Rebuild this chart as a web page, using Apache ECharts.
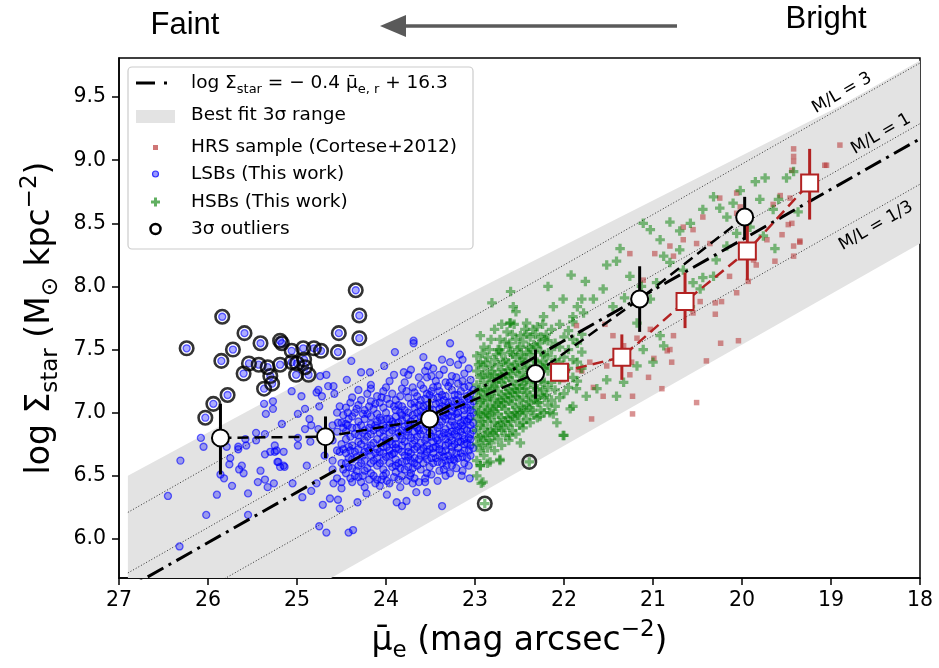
<!DOCTYPE html>
<html><head><meta charset="utf-8">
<script src="https://cdn.jsdelivr.net/npm/echarts@6/dist/echarts.min.js"></script>
<style>html,body{margin:0;padding:0;background:#fff}#c{width:939px;height:668px}</style>
</head><body><div id="c"></div><script>
// ---------------- data ----------------
const xTicks=[18,19,20,21,22,23,24,25,26,27];
const yTicks=[6.0,6.5,7.0,7.5,8.0,8.5,9.0,9.5];

// binned means (this work)
const binMu=[25.86,24.68,23.51,22.32,21.15,19.97];
const binMean=[6.80,6.81,6.95,7.31,7.90,8.55];
const binLo=[6.51,6.64,6.80,7.11,7.64,8.37];
const binHi=[7.07,6.97,7.11,7.50,8.16,8.71];
// binned means (HRS)
const hrsBinMu=[22.05,21.35,20.64,19.94,19.24];
const hrsBinMean=[7.32,7.44,7.88,8.28,8.82];
const hrsBinLo=[7.30,7.26,7.67,8.05,8.53];
const hrsBinHi=[7.35,7.62,8.11,8.49,9.09];

// best fit line and 3 sigma band
const fitMu=[27,18], fitLogS=[5.57,9.17];
const bandMu=[26.9,23.64,18.9,18.0];
const bandUpper=[6.50,7.74,9.43,9.79];
const bandLower=[4.78,6.08,7.98,8.34];
// constant M/L lines
const mlMu=[26.9,18.0];
const ml3=[6.21,9.77], ml1=[5.73,9.29], ml13=[5.25,8.81];

const lsbOutliers=[[26.24,7.51],[25.84,7.76],[25.59,7.63],[25.72,7.50],[25.85,7.41],[25.41,7.55],[25.19,7.57],[25.17,7.55],[25.06,7.49],[24.93,7.51],[24.81,7.51],[24.73,7.49],[24.54,7.48],[24.53,7.63],[24.34,7.97],[24.30,7.77],[24.30,7.59],[25.54,7.39],[25.43,7.38],[25.33,7.36],[25.19,7.38],[25.60,7.31],[25.30,7.29],[25.28,7.23],[25.37,7.19],[25.06,7.40],[25.00,7.39],[24.92,7.42],[24.91,7.36],[25.01,7.30],[24.87,7.30],[25.78,7.14],[25.94,7.07],[26.03,6.96]];
const hsbOutliers=[[22.89,6.28],[22.39,6.61]];

const lsb=[
[26.31,6.62],[26.45,6.34],[26.05,6.73],[26.02,6.19],[26.32,5.94],[25.90,6.35],[25.79,6.73],[25.75,6.64],[25.86,6.51],[25.82,6.48],[25.73,6.42],[25.66,6.73],[25.57,6.74],[25.46,6.78],[25.65,6.55],[25.62,6.58],[25.60,6.52],[25.55,6.36],[25.55,6.19],[25.44,6.45],[25.41,6.54],[25.36,6.47],[25.36,6.67],[25.33,6.41],[25.30,6.69],[25.26,6.44],[25.25,6.74],[25.23,6.70],[25.22,6.61],[25.19,6.57],[25.14,6.57],[25.05,6.44],
[25.37,7.07],[25.35,6.99],[25.27,7.09],[25.17,6.91],[25.06,7.17],[24.99,6.99],[24.86,6.95],[24.84,6.90],[24.76,7.18],[24.72,7.13],[24.75,7.05],[24.67,7.30],[24.65,7.21],[24.58,7.15],[24.52,7.05],[24.43,7.00],[24.39,7.41],[24.28,7.32],[24.17,7.19],[24.02,7.37],[23.90,7.48],[23.80,7.32],[23.69,7.57],[23.72,7.34],
[25.66,6.71],[25.58,6.79],[25.46,6.84],[25.36,6.83],[25.25,6.69],[25.15,6.69],[24.99,6.80],[24.91,6.87],[24.85,6.77],[24.76,6.87],[24.54,6.92],[24.43,6.90],[24.52,6.69],[24.69,6.66],[25.76,6.59],[26.08,6.80],
[25.15,6.58],[24.94,6.33],[24.84,6.38],[24.71,6.27],[24.67,6.05],[24.63,6.32],[24.54,6.31],[24.52,6.24],[24.75,6.10],[24.42,6.05],[24.37,6.07],[24.32,6.29],[24.22,6.36],[23.99,6.35],[23.88,6.29],[23.82,6.26],[23.77,6.30],[23.66,6.37],[23.54,6.37],[23.56,6.45],[23.37,6.26],[23.73,6.50],[23.32,6.58],[23.24,6.63],[23.15,6.50],[23.06,6.48],[24.89,6.58],[24.78,6.44],[24.59,6.44],[24.50,6.45],[25.21,6.61],[24.99,6.74],[25.27,7.03],[24.95,7.13],[24.91,7.03],[24.78,7.16],[24.74,7.29],[24.59,7.21],[24.44,7.26],[24.18,7.32],[23.69,7.55],[23.28,7.55],[23.58,7.44],[23.37,7.42],[23.17,7.46],[23.53,7.37],
[24.60,6.62],[24.60,6.78],[24.60,6.90],[24.60,6.55],
[24.55,6.70],[24.55,6.85],[24.55,6.48],[24.55,7.00],
[24.50,6.60],[24.50,6.75],[24.50,6.92],[24.50,6.40],
[24.45,6.52],[24.45,6.68],[24.45,6.79],[24.45,6.91],[24.45,7.04],[24.45,6.60],[24.45,6.85],
[24.42,6.57],[24.42,6.73],[24.42,6.95],[24.42,6.64],
[24.38,6.45],[24.38,6.63],[24.38,6.74],[24.38,6.88],[24.38,6.97],[24.38,7.12],[24.38,6.56],
[24.35,6.50],[24.35,6.69],[24.35,6.83],[24.35,7.00],
[24.31,6.58],[24.31,6.71],[24.31,6.82],[24.31,6.93],[24.31,7.06],[24.31,6.49],[24.31,6.77],[24.31,7.18],
[24.28,6.60],[24.28,6.75],[24.28,6.90],[24.28,7.10],[24.28,6.45],
[24.24,6.41],[24.24,6.62],[24.24,6.69],[24.24,6.86],[24.24,6.95],[24.24,7.02],[24.24,6.54],[24.24,6.78],
[24.21,6.56],[24.21,6.72],[24.21,6.81],[24.21,6.99],[24.21,7.15],
[24.17,6.52],[24.17,6.66],[24.17,6.74],[24.17,6.83],[24.17,6.91],[24.17,7.09],[24.17,7.22],[24.17,6.60],[24.17,6.97],
[24.14,6.50],[24.14,6.62],[24.14,6.76],[24.14,6.86],[24.14,7.03],
[24.10,6.47],[24.10,6.58],[24.10,6.71],[24.10,6.79],[24.10,6.88],[24.10,6.99],[24.10,7.13],[24.10,6.64],[24.10,6.93],
[24.07,6.60],[24.07,6.69],[24.07,6.84],[24.07,6.96],[24.07,7.08],[24.07,6.42],
[24.03,6.55],[24.03,6.62],[24.03,6.73],[24.03,6.81],[24.03,6.90],[24.03,7.04],[24.03,7.17],[24.03,6.68],[24.03,6.86],[24.03,6.50],
[24.00,6.52],[24.00,6.65],[24.00,6.78],[24.00,6.88],[24.00,7.00],[24.00,7.20],
[23.96,6.44],[23.96,6.60],[23.96,6.70],[23.96,6.77],[23.96,6.84],[23.96,6.95],[23.96,7.07],[23.96,7.25],[23.96,6.66],[23.96,6.90],
[23.93,6.57],[23.93,6.67],[23.93,6.75],[23.93,6.86],[23.93,6.93],[23.93,7.15],
[23.89,6.53],[23.89,6.63],[23.89,6.72],[23.89,6.80],[23.89,6.88],[23.89,6.97],[23.89,7.10],[23.89,6.58],[23.89,7.02],[23.89,6.75],
[23.86,6.47],[23.86,6.60],[23.86,6.71],[23.86,6.84],[23.86,6.92],[23.86,7.06],
[23.82,6.50],[23.82,6.61],[23.82,6.69],[23.82,6.79],[23.82,6.86],[23.82,6.94],[23.82,7.05],[23.82,7.19],[23.82,6.74],[23.82,6.98],
[23.79,6.55],[23.79,6.66],[23.79,6.77],[23.79,6.89],[23.79,7.02],[23.79,7.24],
[23.75,6.57],[23.75,6.65],[23.75,6.73],[23.75,6.82],[23.75,6.91],[23.75,7.00],[23.75,7.12],[23.75,7.30],[23.75,6.69],[23.75,6.87],
[23.72,6.62],[23.72,6.68],[23.72,6.80],[23.72,6.93],[23.72,7.07],[23.72,6.52],
[23.68,6.48],[23.68,6.60],[23.68,6.71],[23.68,6.78],[23.68,6.85],[23.68,6.95],[23.68,7.04],[23.68,7.16],[23.68,6.64],[23.68,6.90],[23.68,7.08],
[23.65,6.58],[23.65,6.73],[23.65,6.81],[23.65,6.88],[23.65,7.00],[23.65,7.13],
[23.61,6.55],[23.61,6.66],[23.61,6.76],[23.61,6.83],[23.61,6.92],[23.61,7.01],[23.61,7.10],[23.61,7.22],[23.61,6.70],[23.61,6.97],
[23.58,6.60],[23.58,6.72],[23.58,6.86],[23.58,6.96],[23.58,7.05],[23.58,7.19],
[23.54,6.52],[23.54,6.63],[23.54,6.74],[23.54,6.80],[23.54,6.89],[23.54,6.98],[23.54,7.06],[23.54,7.15],[23.54,7.28],[23.54,6.69],[23.54,6.94],
[23.51,6.57],[23.51,6.71],[23.51,6.84],[23.51,6.91],[23.51,7.03],[23.51,7.14],
[23.47,6.60],[23.47,6.68],[23.47,6.77],[23.47,6.86],[23.47,6.93],[23.47,7.02],[23.47,7.11],[23.47,7.20],[23.47,6.72],[23.47,6.97],[23.47,7.35],
[23.44,6.64],[23.44,6.73],[23.44,6.80],[23.44,6.95],[23.44,7.07],[23.44,7.25],
[23.40,6.54],[23.40,6.66],[23.40,6.75],[23.40,6.83],[23.40,6.90],[23.40,6.99],[23.40,7.08],[23.40,7.17],[23.40,7.30],[23.40,6.71],[23.40,7.03],
[23.37,6.60],[23.37,6.69],[23.37,6.81],[23.37,6.93],[23.37,7.05],[23.37,7.14],
[23.33,6.62],[23.33,6.70],[23.33,6.79],[23.33,6.87],[23.33,6.95],[23.33,7.04],[23.33,7.13],[23.33,7.24],[23.33,6.74],[23.33,7.00],[23.33,6.50],
[23.30,6.66],[23.30,6.76],[23.30,6.84],[23.30,6.98],[23.30,7.08],[23.30,7.21],
[23.26,6.58],[23.26,6.69],[23.26,6.78],[23.26,6.85],[23.26,6.93],[23.26,7.01],[23.26,7.09],[23.26,7.18],[23.26,7.29],[23.26,6.73],[23.26,6.97],
[23.23,6.62],[23.23,6.75],[23.23,6.83],[23.23,6.90],[23.23,7.04],[23.23,7.14],
[23.19,6.64],[23.19,6.72],[23.19,6.81],[23.19,6.89],[23.19,6.96],[23.19,7.05],[23.19,7.14],[23.19,7.23],[23.19,6.77],[23.19,7.00],[23.19,7.38],
[23.16,6.68],[23.16,6.77],[23.16,6.85],[23.16,6.92],[23.16,7.08],[23.16,7.17],
[23.12,6.60],[23.12,6.70],[23.12,6.79],[23.12,6.87],[23.12,6.94],[23.12,7.02],[23.12,7.10],[23.12,7.20],[23.12,6.75],[23.12,6.98],[23.12,7.31],
[23.09,6.64],[23.09,6.76],[23.09,6.86],[23.09,6.93],[23.09,7.04],[23.09,7.13],
[23.05,6.66],[23.05,6.74],[23.05,6.83],[23.05,6.90],[23.05,6.97],[23.05,7.06],[23.05,7.15],[23.05,7.26],[23.05,6.79],[23.05,7.02],
[23.02,6.72],[23.02,6.86],[23.02,6.92],[23.02,7.00],[23.02,7.09],[23.02,7.18],
[23.99,6.46],[23.99,6.73],[23.99,6.95],[23.99,7.11],
[23.91,6.49],[23.91,6.68],[23.91,6.91],[23.91,7.05],[23.91,7.30],
[23.84,6.41],[23.84,6.56],[23.84,6.82],[23.84,7.00],[23.84,7.13],
[23.77,6.46],[23.77,6.62],[23.77,6.85],[23.77,6.96],[23.77,7.17],
[23.70,6.44],[23.70,6.56],[23.70,6.75],[23.70,6.98],[23.70,7.20],
[23.63,6.45],[23.63,6.63],[23.63,6.86],[23.63,7.06],[23.63,7.28],
[23.56,6.48],[23.56,6.66],[23.56,6.78],[23.56,7.00],[23.56,7.11],[23.56,7.33],
[23.49,6.51],[23.49,6.64],[23.49,6.81],[23.49,6.99],[23.49,7.17],[23.49,7.29],
[23.42,6.46],[23.42,6.61],[23.42,6.78],[23.42,6.88],[23.42,7.12],[23.42,7.21],
[23.35,6.55],[23.35,6.65],[23.35,6.84],[23.35,6.97],[23.35,7.10],[23.35,7.34],
[23.28,6.52],[23.28,6.63],[23.28,6.81],[23.28,6.90],[23.28,7.05],[23.28,7.24],[23.28,7.40],
[23.21,6.56],[23.21,6.68],[23.21,6.86],[23.21,6.99],[23.21,7.10],[23.21,7.28],
[23.14,6.54],[23.14,6.65],[23.14,6.82],[23.14,6.90],[23.14,7.06],[23.14,7.25],[23.14,7.42],
[23.07,6.58],[23.07,6.70],[23.07,6.80],[23.07,6.95],[23.07,7.11],[23.07,7.21],[23.07,7.35],
[24.12,6.44],[24.12,6.68],[24.12,6.90],[24.12,7.07],
[24.05,6.47],[24.05,6.76],[24.05,6.94],[24.05,7.12],
[24.19,6.47],[24.19,6.70],[24.19,6.88],[24.19,7.05],
[24.26,6.50],[24.26,6.66],[24.26,6.84],[24.26,6.99],
[24.33,6.54],[24.33,6.65],[24.33,6.88],[24.33,7.03],
[24.40,6.48],[24.40,6.70],[24.40,6.81],[24.40,7.08],
[24.48,6.55],[24.48,6.71],[24.48,6.88],[24.48,6.98]
];

const hsb=[
[22.81,7.87],[22.60,7.96],[22.57,7.84],[22.61,7.71],[22.18,8.00],[21.92,8.09],[21.76,8.04],[21.52,8.17],[21.41,8.20],[21.37,8.30],[21.11,8.50],[21.03,8.45],[20.92,8.37],[20.81,8.51],[20.70,8.44],[20.58,8.50],[20.44,8.61],[20.32,8.71],[20.25,8.62],[20.17,8.55],[20.10,8.66],[20.02,8.76],[19.85,8.83],[19.80,8.69],[19.74,8.86],[19.59,8.69],[19.50,8.86],[19.42,8.91],[19.37,8.59],[19.63,8.30],[20.32,8.08],[20.44,8.07],[20.55,8.03],[20.66,8.13],[20.81,8.19],[20.88,8.24],[20.70,8.29],[20.96,8.03],[21.03,7.90],[21.13,8.00],[21.26,8.08],[21.32,7.91],[21.45,7.84],[21.56,7.98],[21.67,7.90],[21.78,7.79],[21.90,7.76],[22.01,7.90],[22.12,7.84],[22.23,7.76],[22.35,7.66],[22.42,7.71],[22.49,7.61],[22.61,7.55],[22.72,7.50],[21.18,7.71],[21.11,7.50],[20.92,7.61],[20.88,7.53],[21.00,7.40],[21.18,7.37],[21.33,7.24],[21.41,7.13],[21.52,7.26],[21.63,7.19],[21.75,7.13],[21.86,7.19],[21.93,7.03],[22.01,6.82],[22.08,6.92],[22.16,7.00],[22.27,6.97],[22.46,6.92],[22.49,6.76],[22.61,6.82],[22.72,6.63],[22.83,6.61],[22.91,6.45],[22.94,6.58],[20.58,7.84],[20.47,7.98],[20.29,8.21],[20.17,8.32],[20.06,8.42],[19.91,8.47],[19.76,8.40],[19.65,8.61],[22.93,6.44],[22.72,6.62],[22.00,6.82],[21.90,7.05],[22.12,6.99],[22.60,7.71],[22.94,7.61],
[22.98,6.62],[22.98,6.75],[22.98,6.86],[22.98,6.95],[22.98,7.04],[22.98,7.12],[22.98,7.22],[22.98,7.33],[22.98,6.50],[22.98,7.45],
[22.94,6.70],[22.94,6.81],[22.94,6.90],[22.94,6.99],[22.94,7.08],[22.94,7.17],[22.94,7.28],[22.94,7.40],[22.94,6.58],
[22.90,6.66],[22.90,6.78],[22.90,6.88],[22.90,6.97],[22.90,7.05],[22.90,7.14],[22.90,7.24],[22.90,7.36],[22.90,7.52],
[22.86,6.72],[22.86,6.84],[22.86,6.93],[22.86,7.02],[22.86,7.10],[22.86,7.20],[22.86,7.31],[22.86,7.44],[22.86,6.60],
[22.82,6.76],[22.82,6.87],[22.82,6.96],[22.82,7.06],[22.82,7.15],[22.82,7.25],[22.82,7.37],[22.82,7.58],
[22.78,6.70],[22.78,6.82],[22.78,6.92],[22.78,7.01],[22.78,7.11],[22.78,7.21],[22.78,7.30],[22.78,7.42],[22.78,7.66],
[22.74,6.79],[22.74,6.90],[22.74,6.99],[22.74,7.08],[22.74,7.17],[22.74,7.27],[22.74,7.38],[22.74,7.50],
[22.70,6.74],[22.70,6.86],[22.70,6.96],[22.70,7.05],[22.70,7.14],[22.70,7.24],[22.70,7.34],[22.70,7.47],[22.70,7.70],
[22.66,6.82],[22.66,6.93],[22.66,7.03],[22.66,7.12],[22.66,7.21],[22.66,7.31],[22.66,7.42],[22.66,7.56],
[22.62,6.78],[22.62,6.90],[22.62,7.00],[22.62,7.09],[22.62,7.18],[22.62,7.28],[22.62,7.39],[22.62,7.52],
[22.58,6.86],[22.58,6.97],[22.58,7.07],[22.58,7.16],[22.58,7.25],[22.58,7.35],[22.58,7.46],[22.58,7.62],
[22.54,6.83],[22.54,6.95],[22.54,7.04],[22.54,7.13],[22.54,7.22],[22.54,7.33],[22.54,7.44],[22.54,7.58],[22.54,7.80],
[22.50,6.90],[22.50,7.00],[22.50,7.10],[22.50,7.19],[22.50,7.29],[22.50,7.40],[22.50,7.52],
[22.46,6.88],[22.46,7.02],[22.46,7.12],[22.46,7.22],[22.46,7.32],[22.46,7.43],[22.46,7.56],
[22.42,6.95],[22.42,7.06],[22.42,7.16],[22.42,7.26],[22.42,7.36],[22.42,7.48],[22.42,7.62],
[22.38,6.92],[22.38,7.04],[22.38,7.14],[22.38,7.24],[22.38,7.35],[22.38,7.46],[22.38,7.60],
[22.34,6.98],[22.34,7.10],[22.34,7.20],[22.34,7.30],[22.34,7.41],[22.34,7.54],
[22.30,6.96],[22.30,7.08],[22.30,7.19],[22.30,7.29],[22.30,7.40],[22.30,7.52],[22.30,7.68],
[22.26,7.02],[22.26,7.14],[22.26,7.25],[22.26,7.36],[22.26,7.48],[22.26,7.60],
[22.22,7.00],[22.22,7.12],[22.22,7.24],[22.22,7.35],[22.22,7.46],[22.22,7.58],
[22.18,7.06],[22.18,7.20],[22.18,7.33],[22.18,7.45],[22.18,7.57],
[22.14,7.10],[22.14,7.24],[22.14,7.38],[22.14,7.50],[22.14,7.66],
[22.10,7.05],[22.10,7.18],[22.10,7.30],[22.10,7.42],[22.10,7.55],
[22.05,7.12],[22.05,7.26],[22.05,7.40],[22.05,7.52],[22.05,7.70],
[22.00,7.15],[22.00,7.30],[22.00,7.44],[22.00,7.60],
[21.95,7.20],[21.95,7.35],[21.95,7.50],[21.95,7.65],
[21.90,7.28],[21.90,7.42],[21.90,7.58],[21.90,7.72],
[21.85,7.25],[21.85,7.40],[21.85,7.55],[21.85,7.84],
[21.80,7.35],[21.80,7.48],[21.80,7.62],[21.80,7.90],
[22.96,6.80],[22.96,7.00],[22.96,7.18],[22.96,7.38],
[22.92,6.74],[22.92,6.93],[22.92,7.10],[22.92,7.30],[22.92,7.47],
[22.88,6.82],[22.88,7.00],[22.88,7.18],[22.88,7.40],
[22.84,6.78],[22.84,6.98],[22.84,7.13],[22.84,7.28],[22.84,7.50],
[22.80,6.84],[22.80,7.03],[22.80,7.19],[22.80,7.33],
[22.76,6.86],[22.76,7.05],[22.76,7.24],[22.76,7.46],
[22.72,6.92],[22.72,7.10],[22.72,7.30],[22.72,7.58],
[22.68,6.88],[22.68,7.08],[22.68,7.27],[22.68,7.40],
[22.64,6.96],[22.64,7.15],[22.64,7.34],[22.64,7.64],
[22.60,6.93],[22.60,7.12],[22.60,7.31],[22.60,7.48],
[22.56,7.00],[22.56,7.19],[22.56,7.38],[22.56,7.70],
[22.52,6.98],[22.52,7.16],[22.52,7.35],[22.52,7.50],
[22.48,7.05],[22.48,7.25],[22.48,7.46],
[22.44,7.00],[22.44,7.19],[22.44,7.40],[22.44,7.66],
[22.40,7.09],[22.40,7.30],[22.40,7.52],
[22.36,7.02],[22.36,7.27],[22.36,7.50],
[22.32,7.13],[22.32,7.35],[22.32,7.62],
[22.28,7.08],[22.28,7.30],[22.28,7.55],
[22.24,7.18],[22.24,7.41],[22.24,7.70],
[22.20,7.14],[22.20,7.38],[22.20,7.62]
];

const hrs=[
[21.26,8.26],[20.98,8.26],[21.11,8.05],[21.69,6.95],[21.23,6.99],[21.23,7.13],[20.90,7.19],[20.51,7.08],[20.40,7.41],[20.24,7.55],[20.04,7.57],[20.79,7.40],[20.84,7.49],[20.99,7.43],[21.05,7.28],[21.26,7.30],[21.56,7.13],[21.67,7.20],[21.52,7.37],[21.80,7.33],[21.18,7.59],[21.03,7.66],[20.77,7.61],[20.81,7.50],[20.55,7.79],[20.47,7.88],[20.30,7.78],[20.30,7.87],[20.23,7.88],[20.14,8.08],[20.06,7.95],[19.93,8.04],[19.84,8.17],[19.63,8.20],[19.55,8.41],[19.42,8.32],[19.35,8.36],[19.42,8.24],[19.48,8.49],[19.72,8.37],[20.06,8.74],[20.44,8.55],[20.36,8.34],[20.55,8.45],[20.66,8.37],[20.81,8.32],[19.42,8.99],[19.07,8.96],[19.46,8.70],[19.93,8.29],[20.02,8.63],[19.87,8.21],[21.54,7.70],[21.45,7.61],[21.33,7.53],[21.24,7.40],[21.71,7.40],[21.84,7.34],[22.01,7.26],[21.86,7.69],
[19.42,9.09],[19.42,9.03],[19.44,8.92],[18.90,9.12],[19.05,8.96],[19.44,8.50],[19.65,8.65],[19.57,8.72],[20.06,8.58],[20.25,8.70],[20.51,8.34],[20.66,8.47],[20.77,8.24],[19.35,8.35]
];

// ---------------- chart ----------------
const FONT='DejaVu Sans';
const chart=echarts.init(document.getElementById('c'),null,{renderer:'canvas'});
const pairs=(xs,ys)=>xs.map((x,i)=>[x,ys[i]]);
const plusPath='path://M3.3,0H6.7V3.3H10V6.7H6.7V10H3.3V6.7H0V3.3H3.3Z';

function errSeries(xs,lo,hi,color){
  return {type:'custom',clip:false,z:8,silent:true,
    data:xs.map((x,i)=>[x,lo[i],hi[i]]),encode:{x:0,y:[1,2]},
    renderItem:(p,api)=>{const a=api.coord([api.value(0),api.value(1)]);const b=api.coord([api.value(0),api.value(2)]);
      return {type:'line',shape:{x1:a[0],y1:a[1],x2:b[0],y2:b[1]},style:{stroke:color,lineWidth:3}};}};
}
function straight(xs,ys,style,z){
  return {type:'line',data:pairs(xs,ys),symbol:'none',silent:true,z:z,clip:true,lineStyle:style,animation:false};
}
const sub=(size)=>({fontSize:size,fontFamily:FONT,color:'#000',verticalAlign:'bottom'});
const sup=(size)=>({fontSize:size,fontFamily:FONT,color:'#000',verticalAlign:'top'});
const LSB_FILL='rgba(0,0,255,0.4)', LSB_EDGE='rgba(0,0,255,0.75)';
const HSB_FILL='rgba(0,128,0,0.62)', HRS_FILL='rgba(178,34,34,0.62)';

const option={
  animation:false,
  backgroundColor:'#fff',
  grid:{left:119,top:58,width:801,height:521,show:true,borderColor:'#000',borderWidth:1.5,backgroundColor:'transparent'},
  xAxis:{type:'value',inverse:true,min:18,max:27,interval:1,
    axisLine:{lineStyle:{color:'#000',width:1.5}},
    axisTick:{inside:false,length:7,lineStyle:{color:'#000',width:1.5}},
    axisLabel:{color:'#000',fontSize:20.5,fontFamily:FONT,margin:12},
    splitLine:{show:false},
    name:'{n|μ\u0304}{s|e}{n| (mag arcsec}{p|−2}{n|)}',nameLocation:'middle',nameGap:41,
    nameTextStyle:{rich:{n:{fontSize:33,fontFamily:FONT,color:'#000',lineHeight:44},s:sub(23),p:sup(23)}}},
  yAxis:{type:'value',min:5.69,max:9.81,
    axisLine:{show:true,lineStyle:{color:'#000',width:1.5}},
    axisTick:{show:true,length:7,lineStyle:{color:'#000',width:1.5},customValues:yTicks},
    axisLabel:{color:'#000',fontSize:20.5,fontFamily:FONT,margin:13,customValues:yTicks,formatter:v=>v.toFixed(1)},
    splitLine:{show:false},
    name:'{n|log Σ}{s|star}{n| (M}{s|⊙}{n| kpc}{p|−2}{n|)}',nameLocation:'middle',nameGap:40,nameRotate:90,
    nameTextStyle:{rich:{n:{fontSize:33,fontFamily:FONT,color:'#000',lineHeight:44},s:sub(23),p:sup(23)}}},
  series:[
    {type:'custom',clip:true,silent:true,z:1,data:pairs(bandMu,bandUpper),
      renderItem:(p,api)=>{ if(p.dataIndex>0) return null; const pts=[];
        for(let i=0;i<bandMu.length;i++) pts.push(api.coord([bandMu[i],bandUpper[i]]));
        for(let i=bandMu.length-1;i>=0;i--) pts.push(api.coord([bandMu[i],bandLower[i]]));
        return {type:'polygon',shape:{points:pts},style:{fill:'#e3e3e3'}}; }},
    straight(mlMu,ml3,{color:'#000',width:0.8,type:[1,2]},2),
    straight(mlMu,ml1,{color:'#000',width:0.8,type:[1,2]},2),
    straight(mlMu,ml13,{color:'#000',width:0.8,type:[1,2]},2),
    {type:'scatter',data:hrs,symbol:'rect',symbolSize:5.5,z:3,silent:true,itemStyle:{color:HRS_FILL}},
    {type:'scatter',data:lsb.concat(lsbOutliers),symbol:'circle',symbolSize:7,z:3,silent:true,
      itemStyle:{color:LSB_FILL,borderColor:LSB_EDGE,borderWidth:1.3}},
    {type:'scatter',data:hsb.concat(hsbOutliers),symbol:plusPath,symbolSize:9.5,z:4,silent:true,itemStyle:{color:HSB_FILL}},
    {type:'scatter',data:lsbOutliers.concat(hsbOutliers),symbol:'circle',symbolSize:13.5,z:5,silent:true,
      itemStyle:{color:'rgba(0,0,0,0)',borderColor:'#000',borderWidth:2.6}},
    straight(fitMu,fitLogS,{color:'#000',width:3,type:[18,6,3,6]},6),
    errSeries(binMu,binLo,binHi,'#000'),
    errSeries(hrsBinMu,hrsBinLo,hrsBinHi,'#b22222'),
    {type:'line',data:pairs(binMu,binMean),z:9,silent:true,symbol:'circle',symbolSize:17,showAllSymbol:true,
      lineStyle:{color:'#000',width:2.5,type:[11,6]},itemStyle:{color:'#fff',borderColor:'#000',borderWidth:2}},
    {type:'line',data:pairs(hrsBinMu,hrsBinMean),z:9,silent:true,symbol:'rect',symbolSize:17,showAllSymbol:true,
      lineStyle:{color:'#b22222',width:2.5,type:[11,6]},itemStyle:{color:'#fff',borderColor:'#b22222',borderWidth:2}}
  ],
  graphic:[
    {type:'text',x:185,y:25,style:{text:'Faint',fontSize:31,fontFamily:'Liberation Sans',fill:'#000',align:'center',verticalAlign:'middle'}},
    {type:'text',x:826,y:19,style:{text:'Bright',fontSize:31,fontFamily:'Liberation Sans',fill:'#000',align:'center',verticalAlign:'middle'}},
    {type:'line',shape:{x1:677,y1:26,x2:400,y2:26},style:{stroke:'#5a5a5a',lineWidth:3.5}},
    {type:'polygon',shape:{points:[[380,26],[406,15],[406,37]]},style:{fill:'#5a5a5a'}},
    {type:'text',x:842,y:93,rotation:0.52,style:{text:'M/L = 3',fontSize:17,fontFamily:FONT,fill:'#000',align:'center',verticalAlign:'middle'},z:20},
    {type:'text',x:881,y:134,rotation:0.52,style:{text:'M/L = 1',fontSize:17,fontFamily:FONT,fill:'#000',align:'center',verticalAlign:'middle'},z:20},
    {type:'text',x:876,y:226,rotation:0.52,style:{text:'M/L = 1/3',fontSize:17,fontFamily:FONT,fill:'#000',align:'center',verticalAlign:'middle'},z:20},
    {type:'group',z:100,children:[
      {type:'rect',shape:{x:128,y:67,width:345,height:182,r:4},style:{fill:'rgba(255,255,255,0.85)',stroke:'#cccccc',lineWidth:1.2}},
      {type:'polyline',shape:{points:[[136,83],[176,83]]},style:{stroke:'#000',lineWidth:3,lineDash:[19,9,3,30]}},
      {type:'rect',shape:{x:136,y:110,width:39,height:13},style:{fill:'#e3e3e3'}},
      {type:'rect',shape:{x:153,y:145,width:5,height:5},style:{fill:HRS_FILL}},
      {type:'circle',shape:{cx:155.5,cy:174,r:3},style:{fill:LSB_FILL,stroke:LSB_EDGE,lineWidth:1.2}},
      {type:'polygon',shape:{points:[[154,197.5],[157,197.5],[157,200.5],[160,200.5],[160,203.5],[157,203.5],[157,206.5],[154,206.5],[154,203.5],[151,203.5],[151,200.5],[154,200.5]]},style:{fill:HSB_FILL}},
      {type:'circle',shape:{cx:155.5,cy:229,r:5},style:{fill:'none',stroke:'#000',lineWidth:2.5}},
      {type:'text',x:191,y:83,style:{text:'{n|log Σ}{s|star}{n| = − 0.4 μ\u0304}{s|e, r}{n| + 16.3}',verticalAlign:'middle',
        rich:{n:{fontSize:18.5,fontFamily:FONT,color:'#000',lineHeight:26},s:sub(13)}}},
      {type:'text',x:191,y:115,style:{text:'Best fit 3σ range',fontSize:18.5,fontFamily:FONT,fill:'#000',verticalAlign:'middle'}},
      {type:'text',x:191,y:147,style:{text:'HRS sample (Cortese+2012)',fontSize:18.5,fontFamily:FONT,fill:'#000',verticalAlign:'middle'}},
      {type:'text',x:191,y:174,style:{text:'LSBs (This work)',fontSize:18.5,fontFamily:FONT,fill:'#000',verticalAlign:'middle'}},
      {type:'text',x:191,y:202,style:{text:'HSBs (This work)',fontSize:18.5,fontFamily:FONT,fill:'#000',verticalAlign:'middle'}},
      {type:'text',x:191,y:229,style:{text:'3σ outliers',fontSize:18.5,fontFamily:FONT,fill:'#000',verticalAlign:'middle'}}
    ]}
  ]
};
chart.setOption(option);
</script></body></html>
